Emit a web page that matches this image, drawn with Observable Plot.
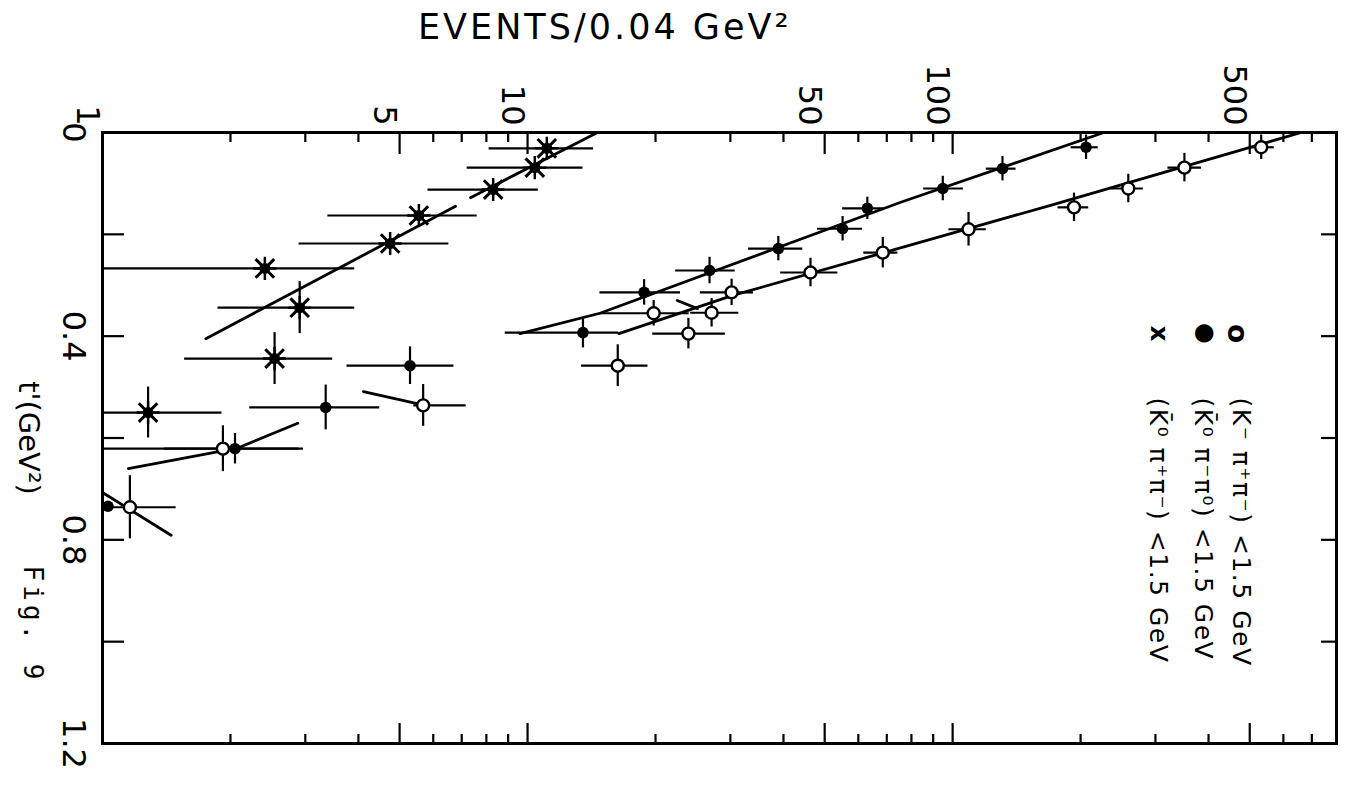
<!DOCTYPE html>
<html>
<head>
<meta charset="utf-8">
<script src="https://cdn.jsdelivr.net/npm/d3@7"></script>
<script src="https://cdn.jsdelivr.net/npm/@observablehq/plot@0.6"></script>
<style>
  body { margin: 0; background: #fff; }
  #title { position: relative; width: 1352px; height: 58px; font-family: "DejaVu Sans", sans-serif; }
  #title span { position: absolute; left: 418px; top: 10px; font-size: 35px; line-height: 35px; letter-spacing: 3px; color: #000; white-space: nowrap; }
  #chart svg { display: block; }
</style>
</head>
<body>
<div id="title"><span>EVENTS/0.04 GeV²</span></div>
<div id="chart"></div>
<script>
// ---- (K⁻π⁺π⁻) open circles: t' (GeV²), events/0.04 GeV², error low/high, t' half-width
const openT  = [0.029, 0.069, 0.110, 0.147, 0.190, 0.236, 0.275, 0.314, 0.354, 0.355, 0.395, 0.458, 0.536, 0.621, 0.736];
const openN  = [532, 351, 259, 193, 109, 68.5, 46.3, 30.2, 27.1, 19.8, 23.9, 16.3, 5.68, 1.92, 1.16];
const openLo = [504, 321, 236, 177, 98, 61.8, 39.4, 25.5, 24.2, 14.8, 19.7, 13.4, 5.4, 1.0, 1.0];
const openHi = [571, 385, 281, 209, 120, 74.3, 53.7, 34.0, 31.4, 24.0, 29.2, 19.2, 7.17, 2.9, 1.49];
const openDt = [0.024, 0.028, 0.028, 0.028, 0.033, 0.030, 0.028, 0.026, 0.028, 0.025, 0.030, 0.041, 0.041, 0.045, 0.062];

// ---- (K̄⁰π⁻π⁰) filled circles
const fillT  = [0.029, 0.071, 0.110, 0.149, 0.189, 0.228, 0.271, 0.314, 0.393, 0.458, 0.540, 0.621, 0.734];
const fillN  = [206, 131, 94.8, 63, 55.1, 38.9, 26.8, 18.8, 13.5, 5.29, 3.35, 2.05, 1.03];
const fillLo = [190, 120, 85.5, 55.1, 48.1, 33.1, 22.3, 14.8, 8.86, 3.76, 2.22, 1.4, 1.03];
const fillHi = [220, 141, 106, 68.9, 61.4, 44.4, 30.8, 22.9, 16.4, 6.71, 4.49, 2.97, 1.03];
const fillDt = [0.024, 0.024, 0.024, 0.022, 0.024, 0.024, 0.026, 0.025, 0.030, 0.037, 0.044, 0.030, 0];

// ---- (K̄⁰π⁺π⁻) stars
const starT  = [0.031, 0.069, 0.112, 0.163, 0.218, 0.267, 0.344, 0.444, 0.550];
const starN  = [11.1, 10.4, 8.30, 5.55, 4.75, 2.41, 2.91, 2.54, 1.28];
const starLo = [8.12, 7.21, 5.83, 3.39, 2.90, 1.0, 1.87, 1.56, 1.0];
const starHi = [14.3, 13.5, 10.6, 7.61, 6.53, 3.92, 3.92, 3.48, 1.91];
const starDt = [0, 0, 0, 0, 0, 0, 0.051, 0.051, 0.050];

// ---- fitted curves (segments): t' and events
const fitSegT = [
  [0, 0.143, 0.320, 0.395],
  [0, 0.137, 0.222, 0.355, 0.395],
  [0, 0.128],
  [0.145, 0.405],
  [0.330, 0.346],
  [0.509, 0.534],
  [0.571, 0.621],
  [0.625, 0.660],
  [0.707, 0.791]
];
const fitSegN = [
  [661, 170, 30.4, 16.4],
  [227, 75.5, 40, 14.8, 9.6],
  [14.6, 7.34],
  [6.77, 1.75],
  [22.5, 25.1],
  [4.11, 5.60],
  [2.88, 2.06],
  [1.93, 1.15],
  [1.0, 1.45]
];

// ---- axes
const xMinor = [2, 3, 4, 6, 7, 8, 9, 20, 30, 40, 60, 70, 80, 90, 200, 300, 400, 600, 700];
const xMajor = [5, 10, 50, 100, 500];
const xLabels = [1, 5, 10, 50, 100, 500];
const tTicks = [0.2, 0.4, 0.6, 0.8, 1.0];
const tLabels = [0, 0.4, 0.8, 1.2];

// ---- legend
const legendSymbols = ["o", "●", "x"];
const legendLabels = ["(K⁻ π⁺π⁻) <1.5 GeV", "(K̄⁰ π⁻π⁰) <1.5 GeV", "(K̄⁰ π⁺π⁻) <1.5 GeV"];

const rows = (T, N, Lo, Hi, Dt) => T.map((t, i) => ({t, n: N[i], lo: Lo[i], hi: Hi[i], dt: Dt[i]}));
const openData = rows(openT, openN, openLo, openHi, openDt);
const fillData = rows(fillT, fillN, fillLo, fillHi, fillDt);
const starData = rows(starT, starN, starLo, starHi, starDt);
const allData = [...openData, ...fillData, ...starData];
const fitRows = fitSegT.flatMap((ts, k) => ts.map((t, j) => ({seg: k, t, n: fitSegN[k][j]})));

const W = 1352, H = 728, mT = 74, mB = 43, mL = 102, mR = 16;
const fw = W - mL - mR, fh = H - mT - mB;

const legendDx = [-86, -124, -169];
const legendSymDx = [-89, -121, -168];
const legendSymSize = [28, 24, 24];

const chart = Plot.plot({
  width: W, height: H,
  marginTop: mT, marginBottom: mB, marginLeft: mL, marginRight: mR,
  x: {type: "log", domain: [1, 800], axis: null},
  y: {domain: [0, 1.2], reverse: true, axis: null},
  style: {fontFamily: "DejaVu Sans, sans-serif", background: "white", color: "black"},
  marks: [
    // fitted lines
    Plot.line(fitRows, {x: "n", y: "t", z: "seg", stroke: "black", strokeWidth: 2.8}),
    // error bars
    Plot.ruleY(allData, {y: "t", x1: "lo", x2: "hi", stroke: "black", strokeWidth: 2.2}),
    Plot.ruleX(allData.filter(d => d.dt > 0), {x: "n", y1: d => d.t - d.dt, y2: d => d.t + d.dt, stroke: "black", strokeWidth: 2.2}),
    // markers
    Plot.dot(openData, {x: "n", y: "t", r: 6, fill: "white", stroke: "black", strokeWidth: 2.4}),
    Plot.dot(fillData, {x: "n", y: "t", r: 5.8, fill: "black"}),
    Plot.dot(starData, {x: "n", y: "t", r: 8.5, symbol: "times", stroke: "black", strokeWidth: 3}),
    Plot.dot(starData, {x: "n", y: "t", r: 7.5, symbol: "plus", stroke: "black", strokeWidth: 2.5}),
    Plot.dot(starData, {x: "n", y: "t", r: 5.5, fill: "black"}),
    // frame and ticks
    Plot.frame({stroke: "black", strokeWidth: 3}),
    Plot.tickX(xMinor, {x: d => d, insetBottom: fh - 10, stroke: "black", strokeWidth: 2.2}),
    Plot.tickX(xMajor, {x: d => d, insetBottom: fh - 22, stroke: "black", strokeWidth: 2.2}),
    Plot.tickX(xMinor, {x: d => d, insetTop: fh - 9, stroke: "black", strokeWidth: 2.2}),
    Plot.tickX(xMajor, {x: d => d, insetTop: fh - 20, stroke: "black", strokeWidth: 2.2}),
    Plot.tickY(tTicks, {y: d => d, insetRight: fw - 22, stroke: "black", strokeWidth: 2.2}),
    Plot.tickY(tTicks, {y: d => d, insetLeft: fw - 15, stroke: "black", strokeWidth: 2.2}),
    // tick labels
    Plot.text(xLabels, {x: d => d, text: d => String(d), frameAnchor: "top", textAnchor: "end", rotate: 90, dx: -3, dy: -7, fontSize: 32}),
    Plot.text(tLabels, {y: d => d, text: d => String(d), frameAnchor: "left", textAnchor: "middle", rotate: 90, dx: -29, fontSize: 32}),
    // axis label and figure number
    Plot.text(["t'(GeV²)"], {text: d => d, frameAnchor: "left", textAnchor: "middle", rotate: 90, dx: -74, fontSize: 29}),
    Plot.text(["Fig. 9"], {text: d => d, frameAnchor: "bottom-left", textAnchor: "end", rotate: 90, dx: -79, dy: -60, fontSize: 26, fontFamily: "DejaVu Sans Mono"}),
    // legend
    ...legendLabels.map((lab, i) => Plot.text([lab], {text: d => d, frameAnchor: "top-right", textAnchor: "start", rotate: 90, dx: legendDx[i], dy: 265, fontSize: 25})),
    ...legendSymbols.map((s, i) => Plot.text([s], {text: d => d, frameAnchor: "top-right", textAnchor: "middle", rotate: 90, dx: legendSymDx[i], dy: 201, fontSize: legendSymSize[i], fontWeight: "bold"}))
  ]
});

d3.select(chart).selectAll("text").filter(function () { return this.textContent === "Fig. 9"; }).attr("letter-spacing", 4);
d3.select(chart).selectAll("text").filter(function () { return legendLabels.includes(this.textContent); }).attr("letter-spacing", 1.5);

document.getElementById("chart").appendChild(chart);
</script>
</body>
</html>
